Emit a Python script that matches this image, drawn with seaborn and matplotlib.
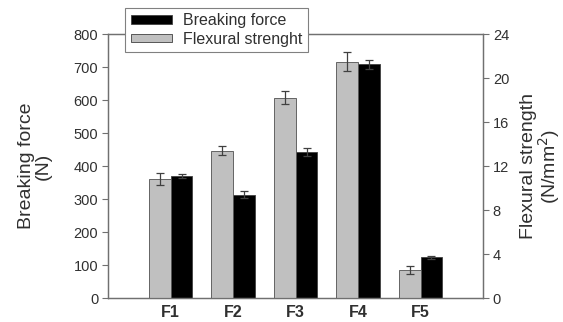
import pandas as pd
import numpy as np
import matplotlib.pyplot as plt
import seaborn as sns
from matplotlib.patches import Patch

# --- data ---
formulations = ['F1', 'F2', 'F3', 'F4', 'F5']
breaking_force = [370, 313, 443, 708, 123]          # N
breaking_err = [5, 10, 13, 15, 5]
flexural_strength = [10.8, 13.4, 18.2, 21.5, 2.55]  # N/mm2
flexural_err = [0.55, 0.42, 0.6, 0.85, 0.35]

series_order = ['Flexural strenght', 'Breaking force']
colors = {'Flexural strenght': '#c0c0c0', 'Breaking force': '#000000'}

# each axis gets both series so the bars dodge; the other one is left empty
nan5 = [np.nan] * len(formulations)
df_left = pd.DataFrame({'form': formulations * 2,
                        'value': nan5 + breaking_force,
                        'series': ['Flexural strenght'] * 5 + ['Breaking force'] * 5})
df_right = pd.DataFrame({'form': formulations * 2,
                         'value': flexural_strength + nan5,
                         'series': ['Flexural strenght'] * 5 + ['Breaking force'] * 5})

sns.set_style('white')
plt.rcParams['font.family'] = ['Liberation Sans', 'DejaVu Sans']

fig = plt.figure(figsize=(5.63, 3.22), dpi=100)
ax = fig.add_axes([0.192, 0.0745, 0.666, 0.8195])
ax2 = ax.twinx()

spine_col = '#707070'
text_col = '#303030'

# left axis: breaking force, right axis: flexural strength
sns.barplot(data=df_left, x='form', y='value', hue='series', hue_order=series_order,
            palette=colors, width=0.7, ax=ax, edgecolor='#404040', linewidth=0.6,
            legend=False, errorbar=None)
sns.barplot(data=df_right, x='form', y='value', hue='series', hue_order=series_order,
            palette=colors, width=0.7, ax=ax2, edgecolor='#505050', linewidth=0.6,
            legend=False, errorbar=None)

# error bars at bar centres
def add_err(axis, vals, errs):
    bars = [p for p in axis.patches if p.get_height() > 0]
    bars = sorted(bars, key=lambda p: p.get_x())
    xs = [p.get_x() + p.get_width() / 2 for p in bars]
    axis.errorbar(xs, vals, yerr=errs, fmt='none', ecolor='#404040',
                  elinewidth=0.9, capsize=3, capthick=0.9)

add_err(ax, breaking_force, breaking_err)
add_err(ax2, flexural_strength, flexural_err)

ax.set_xlim(-1, 5)
ax.set_ylim(0, 800)
ax2.set_ylim(0, 24)
ax.set_yticks(range(0, 801, 100))
ax2.set_yticks(range(0, 25, 4))

ax.set_xlabel('')
ax.set_ylabel('Breaking force\n(N)', fontsize=14, color=text_col,
              linespacing=0.95, labelpad=16)
ax2.set_ylabel('Flexural strength\n(N/mm$^2$)', fontsize=14, color=text_col,
               linespacing=0.95, labelpad=8)

for a in (ax, ax2):
    for s in a.spines.values():
        s.set_color(spine_col)
        s.set_linewidth(0.9)
ax.tick_params(axis='y', direction='out', length=4, width=0.8, color=spine_col,
               labelsize=10.5, labelcolor=text_col, left=True, pad=3)
ax2.tick_params(axis='y', direction='out', length=4, width=0.8, color=spine_col,
                labelsize=10.5, labelcolor=text_col, right=True, pad=3)
ax.tick_params(axis='x', length=0, labelsize=11.5, labelcolor=text_col, pad=5)
for lbl in ax.get_xticklabels():
    lbl.set_fontweight('bold')

handles = [Patch(facecolor=colors[s], edgecolor='#404040', linewidth=0.6)
           for s in ['Breaking force', 'Flexural strenght']]
leg = ax2.legend(handles, ['Breaking force', 'Flexural strenght'],
                 loc='upper left', bbox_to_anchor=(0.045, 1.10), fontsize=11.5,
                 frameon=True, fancybox=False, framealpha=1, edgecolor='#808080',
                 handlelength=2.6, handleheight=0.45, handletextpad=0.7,
                 labelspacing=0.2, borderpad=0.35, borderaxespad=0)
leg.get_frame().set_linewidth(0.8)
for t in leg.get_texts():
    t.set_color(text_col)

fig.savefig('out.png', dpi=100)
